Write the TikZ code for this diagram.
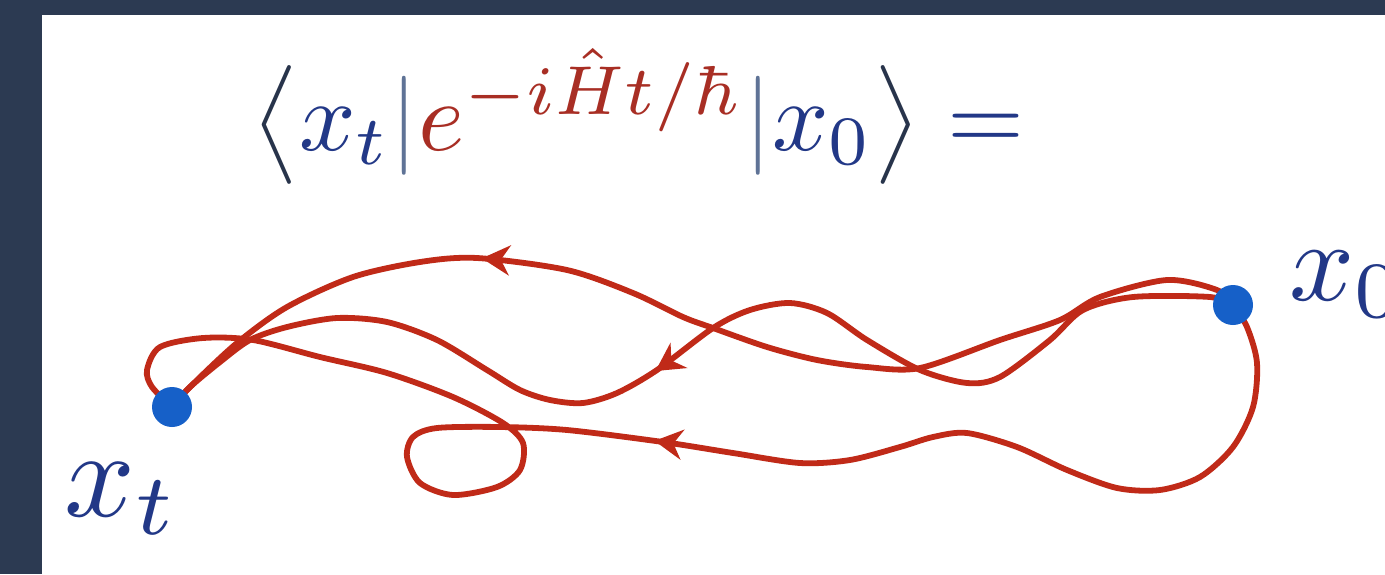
\RequirePackage{fix-cm}
\documentclass[tikz,border=0pt]{standalone}
\usepackage{amsmath}
\usepackage{graphicx}
\usetikzlibrary{arrows.meta,decorations.markings}
\definecolor{navybg}{RGB}{44,58,82}
\definecolor{curvered}{RGB}{192,42,24}
\definecolor{dotblue}{RGB}{22,96,200}
\definecolor{mathblue}{RGB}{34,56,135}
\definecolor{mathred}{RGB}{168,46,36}
\definecolor{barcol}{RGB}{95,115,150}
\definecolor{brackcol}{RGB}{40,52,75}
\begin{document}
\begin{tikzpicture}[x=0.5pt,y=-0.5pt,
  pathline/.style={draw=curvered,line width=2.9pt,line cap=round,line join=round},
  dot/.style={circle,fill=dotblue,inner sep=0pt,minimum size=20pt},
  arrowat/.style={postaction={decorate,decoration={markings,mark=at position #1 with {\arrow{Stealth[length=14pt,width=15pt,inset=4.5pt]}}}}},
  lbl/.style={inner sep=0pt,anchor=base west,text=mathblue},
  formula/.style={inner sep=0pt,anchor=base west,text=mathblue}]
\useasboundingbox (0,0) rectangle (1385,574);
\fill[navybg] (0,0) rectangle (1385,574);
\fill[white] (42,15) rectangle (1385,574);
\node[formula] (eq) at (252,150) {\scalebox{4.95}{$\color{brackcol}\big\langle\color{mathblue} x_t{\color{barcol}|}{\color{mathred}e^{-i\hat{H}t/\hbar}}{\color{barcol}|}x_0\color{brackcol}\big\rangle\color{mathblue} =$}};
\begin{scope}
\clip (42,15) rectangle (1385,574);
\coordinate (x0) at (1233,305);
\coordinate (xt) at (172,407);
% path A (top)
\draw[pathline,arrowat=0.69] plot[smooth] coordinates {(x0) (1217,290) (1167,280) (1100,297) (1060,320) (1000,340) (920,368) (867,367) (817,360) (767,347) (713,328) (683,317) (633,293) (567,270) (477,258) (420,262) (353,277) (287,307) (237,343) (190,387) (xt)};
% path B (middle)
\draw[pathline,arrowat=0.545] plot[smooth] coordinates {(x0) (1210,297) (1133,297) (1083,310) (1050,340) (1000,377) (967,383) (920,370) (867,340) (827,313) (790,303) (750,310) (713,328) (657,370) (617,393) (583,403) (550,400) (520,390) (487,370) (437,340) (387,322) (337,318) (287,327) (250,340) (220,362) (190,387) (xt)};
% path C (bottom, with loop)
\draw[pathline,arrowat=0.46] plot[smooth] coordinates {(x0) (1247,327) (1257,363) (1253,407) (1233,447) (1200,477) (1160,490) (1117,488) (1067,470) (1017,447) (967,433) (933,437) (900,447) (850,460) (800,463) (733,453) (663,442) (567,430) (500,427) (437,428) (413,437) (407,457) (420,483) (453,495) (497,487) (520,470) (523,443) (503,423) (453,397) (387,373) (320,357) (253,340) (203,338) (160,347) (147,370) (152,387) (xt)};
\node[dot] (x0dot) at (x0) {};
\node[dot] (xtdot) at (xt) {};
\node[lbl] (x0lbl) at (1289,300) {\scalebox{5.7}{$x_0$}};
\node[lbl] (xtlbl) at (64,516) {\scalebox{6.2}{$x_t$}};
\end{scope}
\end{tikzpicture}
\end{document}
